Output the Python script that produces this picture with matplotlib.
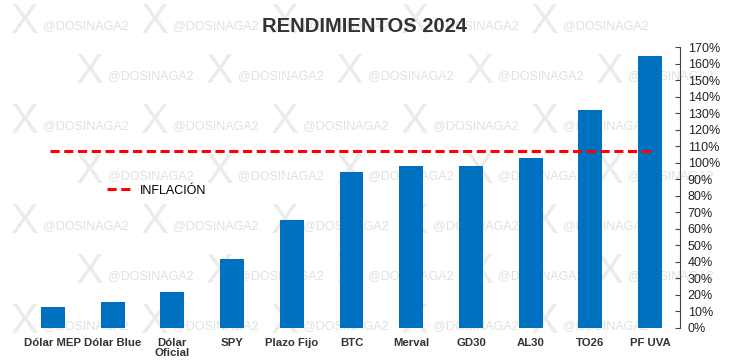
# Rendimientos 2024 vs inflacion
import matplotlib
matplotlib.use("Agg")
import matplotlib.pyplot as plt
from matplotlib.ticker import FuncFormatter

plt.rcParams["font.family"] = ["Liberation Sans", "DejaVu Sans"]

# categorias y valores (%)
Activos = ["Dólar MEP", "Dólar Blue", "Dólar\nOficial", "SPY", "Plazo Fijo",
           "BTC", "Merval", "GD30", "AL30", "TO26", "PF UVA"]
Rendimientos = [12.7, 15.7, 21.8, 41.7, 65.3, 94.4, 98.0, 98.0, 102.8, 131.9, 164.5]
Inflacion = 107.0

fig = plt.figure(figsize=(7.30, 3.63), dpi=100)

# marca de agua de fondo (detras del grafico)
for fila in range(7):
    y = 1 - (22 + fila * 50) / 363
    desfase = 0 if fila % 2 == 0 else 65
    for col in range(0, 6):
        x0 = (10 + col * 130 + desfase) / 730
        if x0 + 0.16 > 1:
            continue
        fig.text(x0, y, "X", fontsize=30, color="#ebebeb",
                 ha="left", va="center", zorder=-2)
        fig.text(x0 + 0.045, y - 0.01, "@DOSINAGA2", fontsize=9,
                 color="#e0e0e0", ha="left", va="center", zorder=-2)

ax = fig.add_axes([23 / 730, 1 - 328 / 363, 657 / 730, 281 / 363])
ax.patch.set_alpha(0)

posiciones = range(len(Activos))
ax.bar(posiciones, Rendimientos, width=0.4, color="#0070C0", zorder=2)

# linea de inflacion
ax.plot([-0.05, 10.05], [Inflacion, Inflacion], color="#FF0000",
        linestyle=(0, (3, 1.5)), linewidth=2.2, zorder=3, label="INFLACIÓN")

ax.set_xlim(-0.5, len(Activos) - 0.5)
ax.set_ylim(0, 170)
ax.set_yticks(range(0, 171, 10))
ax.yaxis.set_major_formatter(FuncFormatter(lambda v, p: f"{v:.0f}%"))
ax.yaxis.tick_right()
ax.tick_params(axis="y", direction="in", length=3.5, color="#444444",
               labelsize=9, labelcolor="#222222", pad=5.5)

ax.set_xticks(list(posiciones))
ax.set_xticklabels(Activos, fontsize=8.2, fontweight="bold", color="#333333",
                   linespacing=1.05)
ax.tick_params(axis="x", length=0, pad=7)

for lado in ["top", "left", "bottom"]:
    ax.spines[lado].set_visible(False)
ax.spines["right"].set_color("#444444")

ax.legend(loc="upper left", bbox_to_anchor=(0.11, 0.55), frameon=False,
          fontsize=9, handlelength=2.2, handletextpad=0.5)

fig.text(0.5, 1 - 27 / 363, "RENDIMIENTOS 2024", fontsize=14.5, fontweight="bold",
         color="#333333", ha="center", va="center")

fig.savefig("out.png", dpi=100)
